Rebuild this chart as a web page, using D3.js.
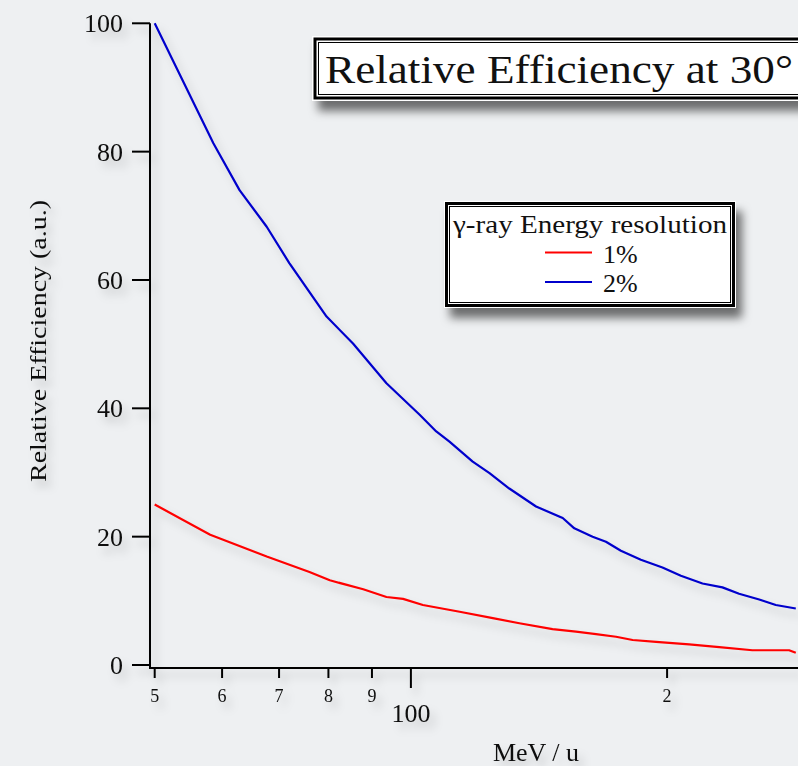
<!DOCTYPE html>
<html>
<head>
<meta charset="utf-8">
<script src="https://cdn.jsdelivr.net/npm/d3@7"></script>
<style>
  body { margin: 0; background: #eef0f2; }
  svg { display: block; }
  text { font-family: "Palatino Linotype", "Book Antiqua", Palatino, "Liberation Serif", serif; fill: #111; }
</style>
</head>
<body>
<div id="chart"></div>
<script>
// 2% resolution (blue)
const energy2 = [50, 58.6, 62.9, 67.7, 72.0, 79.6, 85.5, 93.6, 102.4, 107.1, 111.0, 118.2, 123.7, 130.5, 140.3,
  150.8, 155.6, 163.5, 169.5, 176.5, 186.3, 197.5, 207.6, 220.1, 232.3, 243.0, 256.6, 268.4, 283.3];
const eff2 = [100, 81.3, 74.0, 68.3, 62.6, 54.3, 50.1, 43.9, 39.0, 36.4, 34.8, 31.7, 29.9, 27.5, 24.7,
  22.9, 21.3, 20.0, 19.2, 17.8, 16.4, 15.2, 13.9, 12.7, 12.1, 11.1, 10.2, 9.35, 8.8];

// 1% resolution (red)
const energy1 = [50, 58.1, 67.7, 76.0, 80.3, 87.9, 93.6, 97.9, 103.3, 114.1, 124.8, 134.1, 146.7, 156.3,
  165.0, 174.2, 182.2, 194.1, 212.3, 230.3, 251.9, 278.2, 283.3];
const eff1 = [25, 20.3, 16.9, 14.5, 13.2, 11.8, 10.6, 10.3, 9.35, 8.3, 7.3, 6.5, 5.6, 5.2,
  4.8, 4.4, 3.9, 3.6, 3.2, 2.8, 2.3, 2.3, 1.9];

const yTicks = [0, 20, 40, 60, 80, 100];
const xMinorTicks = [50, 60, 70, 80, 90, 200];
const xMinorLabels = ["5", "6", "7", "8", "9", "2"];
const xMajorTicks = [100];
const xMajorLabels = ["100"];

const seriesNames = ["1%", "2%"];
const seriesColors = ["#ff0000", "#0000cc"];

const width = 798, height = 766;

const svg = d3.select("#chart").append("svg")
  .attr("width", width)
  .attr("height", height);

const defs = svg.append("defs");
defs.append("filter").attr("id", "soft")
  .attr("x", "-20%").attr("y", "-20%").attr("width", "150%").attr("height", "150%")
  .append("feDropShadow")
  .attr("dx", 5).attr("dy", 7).attr("stdDeviation", 4)
  .attr("flood-color", "#000").attr("flood-opacity", 0.18);
defs.append("filter").attr("id", "box")
  .attr("x", "-10%").attr("y", "-20%").attr("width", "130%").attr("height", "170%")
  .append("feDropShadow")
  .attr("dx", 6).attr("dy", 10).attr("stdDeviation", 5)
  .attr("flood-color", "#000").attr("flood-opacity", 0.55);

const x = d3.scaleLog().domain([50, 285]).range([154.7, 798]);
const y = d3.scaleLinear().domain([0, 100]).range([665, 23.3]);

const axisY = 668, axisX = 150;

const g = svg.append("g").attr("filter", "url(#soft)");

// axes lines
g.append("line")
  .attr("x1", axisX).attr("x2", axisX)
  .attr("y1", y(100)).attr("y2", axisY)
  .attr("stroke", "#000").attr("stroke-width", 2);
g.append("line")
  .attr("x1", axisX - 1).attr("x2", width)
  .attr("y1", axisY).attr("y2", axisY)
  .attr("stroke", "#000").attr("stroke-width", 2);

// y ticks
yTicks.forEach(t => {
  g.append("line")
    .attr("x1", axisX - 18).attr("x2", axisX)
    .attr("y1", y(t)).attr("y2", y(t))
    .attr("stroke", "#000").attr("stroke-width", 2);
  g.append("text")
    .attr("x", axisX - 27).attr("y", y(t) + 9)
    .attr("text-anchor", "end")
    .style("font-size", "26px")
    .text(t);
});

// x ticks
xMinorTicks.forEach((t, i) => {
  g.append("line")
    .attr("x1", x(t)).attr("x2", x(t))
    .attr("y1", axisY).attr("y2", axisY + 10)
    .attr("stroke", "#000").attr("stroke-width", 2);
  g.append("text")
    .attr("x", x(t)).attr("y", axisY + 34)
    .attr("text-anchor", "middle")
    .style("font-size", "18px")
    .text(xMinorLabels[i]);
});
xMajorTicks.forEach((t, i) => {
  g.append("line")
    .attr("x1", x(t)).attr("x2", x(t))
    .attr("y1", axisY).attr("y2", axisY + 20)
    .attr("stroke", "#000").attr("stroke-width", 2);
  g.append("text")
    .attr("x", x(t)).attr("y", axisY + 54)
    .attr("text-anchor", "middle")
    .style("font-size", "26px")
    .text(xMajorLabels[i]);
});

// axis labels
g.append("text")
  .attr("transform", `translate(46, 341) rotate(-90)`)
  .attr("text-anchor", "middle")
  .attr("textLength", 282).attr("lengthAdjust", "spacingAndGlyphs")
  .style("font-size", "24px")
  .text("Relative Efficiency (a.u.)");
g.append("text")
  .attr("x", 536).attr("y", 761)
  .attr("text-anchor", "middle")
  .style("font-size", "26px")
  .text("MeV / u");

// curves
const line = d3.line().x(d => x(d[0])).y(d => y(d[1]));
const curves = [
  d3.zip(energy1, eff1),
  d3.zip(energy2, eff2)
];
curves.forEach((pts, i) => {
  g.append("path")
    .datum(pts)
    .attr("d", line)
    .attr("fill", "none")
    .attr("stroke", seriesColors[i])
    .attr("stroke-width", 2.2)
    .attr("stroke-linejoin", "round");
});

// title box
const tb = svg.append("g");
tb.append("rect")
  .attr("x", 312).attr("y", 36).attr("width", 490).attr("height", 65)
  .attr("fill", "#fff").attr("filter", "url(#box)");
tb.append("rect")
  .attr("x", 315).attr("y", 39).attr("width", 490).attr("height", 59)
  .attr("fill", "#fff").attr("stroke", "#000").attr("stroke-width", 3);
tb.append("rect")
  .attr("x", 318.5).attr("y", 42.5).attr("width", 490).attr("height", 52)
  .attr("fill", "none").attr("stroke", "#000").attr("stroke-width", 1);
tb.append("text")
  .attr("x", 325).attr("y", 83)
  .attr("textLength", 468).attr("lengthAdjust", "spacingAndGlyphs")
  .style("font-size", "39px")
  .text("Relative Efficiency at 30°");

// legend box
const lg = svg.append("g");
lg.append("rect")
  .attr("x", 444).attr("y", 201).attr("width", 292).attr("height", 107)
  .attr("fill", "#fff").attr("filter", "url(#box)");
lg.append("rect")
  .attr("x", 446.5).attr("y", 203.5).attr("width", 287).attr("height", 102)
  .attr("fill", "#fff").attr("stroke", "#000").attr("stroke-width", 3);
lg.append("rect")
  .attr("x", 449.5).attr("y", 206.5).attr("width", 281).attr("height", 96)
  .attr("fill", "none").attr("stroke", "#000").attr("stroke-width", 1);
lg.append("text")
  .attr("x", 590).attr("y", 233)
  .attr("text-anchor", "middle")
  .attr("textLength", 274).attr("lengthAdjust", "spacingAndGlyphs")
  .style("font-size", "25px")
  .text("γ-ray Energy resolution");
seriesNames.forEach((name, i) => {
  const ly = 252.5 + i * 29.5;
  lg.append("line")
    .attr("x1", 545).attr("x2", 592)
    .attr("y1", ly).attr("y2", ly)
    .attr("stroke", seriesColors[i]).attr("stroke-width", 2.2);
  lg.append("text")
    .attr("x", 603).attr("y", ly + 10)
    .style("font-size", "26px")
    .text(name);
});
</script>
</body>
</html>
